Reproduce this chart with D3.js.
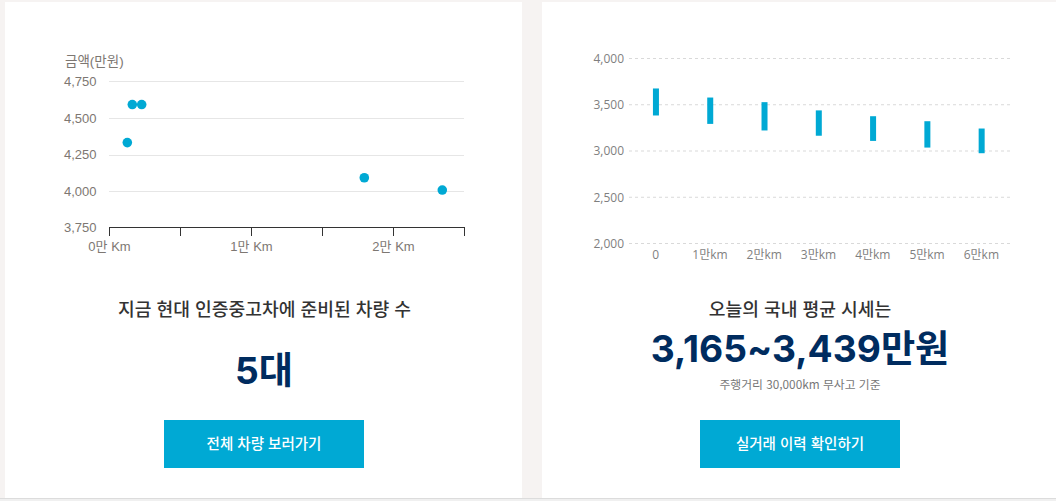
<!DOCTYPE html>
<html lang="ko"><head><meta charset="utf-8">
<script src="https://cdn.jsdelivr.net/npm/d3@7/dist/d3.min.js"></script>
<style>html,body{margin:0;padding:0;background:#fff;overflow:hidden}svg{display:block}</style>
</head><body><svg id="c" width="1056" height="501"></svg>
<script>
const scatterKm = [1268, 1620, 2280, 17958, 23450];
const scatterPrice = [4332, 4592, 4592, 4092, 4008];
const scatterPriceTicks = [3750, 4000, 4250, 4500, 4750];
const scatterKmTicks = [0, 5000, 10000, 15000, 20000, 25000];
const scatterKmLabels = ["0만 Km", "", "1만 Km", "", "2만 Km", ""];
const rangeCategories = ["0", "1만km", "2만km", "3만km", "4만km", "5만km", "6만km"];
const rangeHigh = [3676, 3578, 3528, 3439, 3376, 3322, 3243];
const rangeLow = [3384, 3293, 3222, 3165, 3109, 3037, 2976];
const rangeTicks = [2000, 2500, 3000, 3500, 4000];

const BLUE = "#00a9d4", NAVY = "#002c5f", KR = "'Noto Sans CJK KR','Noto Sans',sans-serif";
const LATIN = "Inter,'Noto Sans CJK KR',sans-serif";
const svg = d3.select("#c");
svg.append("rect").attr("width", 1056).attr("height", 501).attr("fill", "#f6f3f2");
svg.append("rect").attr("x", 5).attr("y", 2).attr("width", 517).attr("height", 496).attr("fill", "#fff");
svg.append("rect").attr("x", 542).attr("y", 2).attr("width", 514).attr("height", 496).attr("fill", "#fff");
svg.append("rect").attr("x", 0).attr("y", 498).attr("width", 1056).attr("height", 1).attr("fill", "#dcdcdc");
svg.append("rect").attr("x", 0).attr("y", 499).attr("width", 1056).attr("height", 2).attr("fill", "#f0f0f0");

// Scatter chart
const AR = "'Liberation Sans','Noto Sans CJK KR',sans-serif", GREY = "#7d7772";
const x1 = d3.scaleLinear().domain([0, 25000]).range([109, 464]);
const y1 = d3.scaleLinear().domain([3750, 4750]).range([227.8, 81.4]);
const snap = v => Math.round(v) + 0.5;
const g1 = svg.append("g");
g1.append("g").selectAll("line").data(scatterPriceTicks.slice(1)).join("line")
  .attr("x1", 109).attr("x2", 464).attr("y1", d => snap(y1(d))).attr("y2", d => snap(y1(d)))
  .attr("stroke", "#e6e6e6");
const ay1 = g1.append("g").attr("transform", "translate(109.5,0)")
  .call(d3.axisLeft(y1).tickValues(scatterPriceTicks).tickSize(0).tickPadding(13).tickFormat(d3.format(",")));
ay1.select(".domain").remove();
ay1.selectAll("text").attr("font-family", AR).attr("font-size", 13).attr("fill", GREY);
const ax1 = g1.append("g").attr("transform", "translate(0,227)")
  .call(d3.axisBottom(x1).tickValues(scatterKmTicks).tickSize(9).tickSizeOuter(0).tickPadding(6)
    .tickFormat((d, i) => scatterKmLabels[i]));
ax1.select(".domain").attr("stroke", "#333");
ax1.selectAll("line").attr("stroke", "#333");
ax1.selectAll("text").attr("font-family", AR).attr("font-size", 13).attr("fill", GREY);
g1.append("text").attr("x", 65).attr("y", 66).attr("font-family", AR).attr("font-size", 13.5).attr("fill", GREY).text("금액(만원)");
g1.append("g").selectAll("circle").data(scatterKm).join("circle")
  .attr("cx", d => x1(d) + 0.3).attr("cy", (d, i) => y1(scatterPrice[i])).attr("r", 4.8).attr("fill", BLUE);

// Range chart
const OS = "'Open Sans','Noto Sans CJK KR',sans-serif", G2 = "#7f7f7f";
const x2 = d3.scaleBand().domain(rangeCategories).range([628.5, 1008.5]);
const y2 = d3.scaleLinear().domain([2000, 4000]).range([243.5, 58.5]);
const g2 = svg.append("g");
g2.append("g").selectAll("line").data(rangeTicks).join("line")
  .attr("x1", 629).attr("x2", 1010).attr("y1", d => y2(d)).attr("y2", d => y2(d))
  .attr("stroke", "#d9d9d9").attr("stroke-dasharray", "3,3");
const ay2 = g2.append("g").attr("transform", "translate(629,0)")
  .call(d3.axisLeft(y2).tickValues(rangeTicks).tickSize(0).tickPadding(5).tickFormat(d3.format(",")));
ay2.select(".domain").remove();
ay2.selectAll("text").attr("font-family", OS).attr("font-size", 12).attr("fill", G2);
const ax2 = g2.append("g").attr("transform", "translate(0,250)")
  .call(d3.axisBottom(x2).tickSize(0).tickPadding(0));
ax2.select(".domain").remove();
ax2.selectAll("text").attr("font-family", OS).attr("font-size", 12).attr("fill", G2);
g2.append("g").selectAll("rect").data(rangeCategories).join("rect")
  .attr("x", d => x2(d) + x2.bandwidth() / 2 - 2.7)
  .attr("width", 6)
  .attr("y", (d, i) => y2(rangeHigh[i]))
  .attr("height", (d, i) => y2(rangeLow[i]) - y2(rangeHigh[i]))
  .attr("fill", BLUE);

// Text blocks
function txt(x, y, s, size, weight, fill, family) {
  svg.append("text").attr("x", x).attr("y", y).attr("text-anchor", "middle")
    .attr("font-family", family || KR).attr("font-size", size).attr("font-weight", weight).attr("fill", fill).text(s);
}
txt(264.5, 316, "지금 현대 인증중고차에 준비된 차량 수", 18.2, 500, "#333");
txt(264, 384, "5대", 37.2, 700, NAVY, LATIN);
txt(800, 316, "오늘의 국내 평균 시세는", 18.2, 500, "#333");
txt(800, 362, "3,165~3,439만원", 37.2, 700, NAVY, LATIN);
txt(800, 389, "주행거리 30,000km 무사고 기준", 11.8, 400, "#777");
svg.append("rect").attr("x", 164).attr("y", 420).attr("width", 200).attr("height", 48).attr("fill", BLUE);
svg.append("rect").attr("x", 700).attr("y", 420).attr("width", 200).attr("height", 48).attr("fill", BLUE);
txt(264, 449, "전체 차량 보러가기", 14.5, 500, "#fff");
txt(800, 449, "실거래 이력 확인하기", 14.5, 500, "#fff");
</script></body></html>
